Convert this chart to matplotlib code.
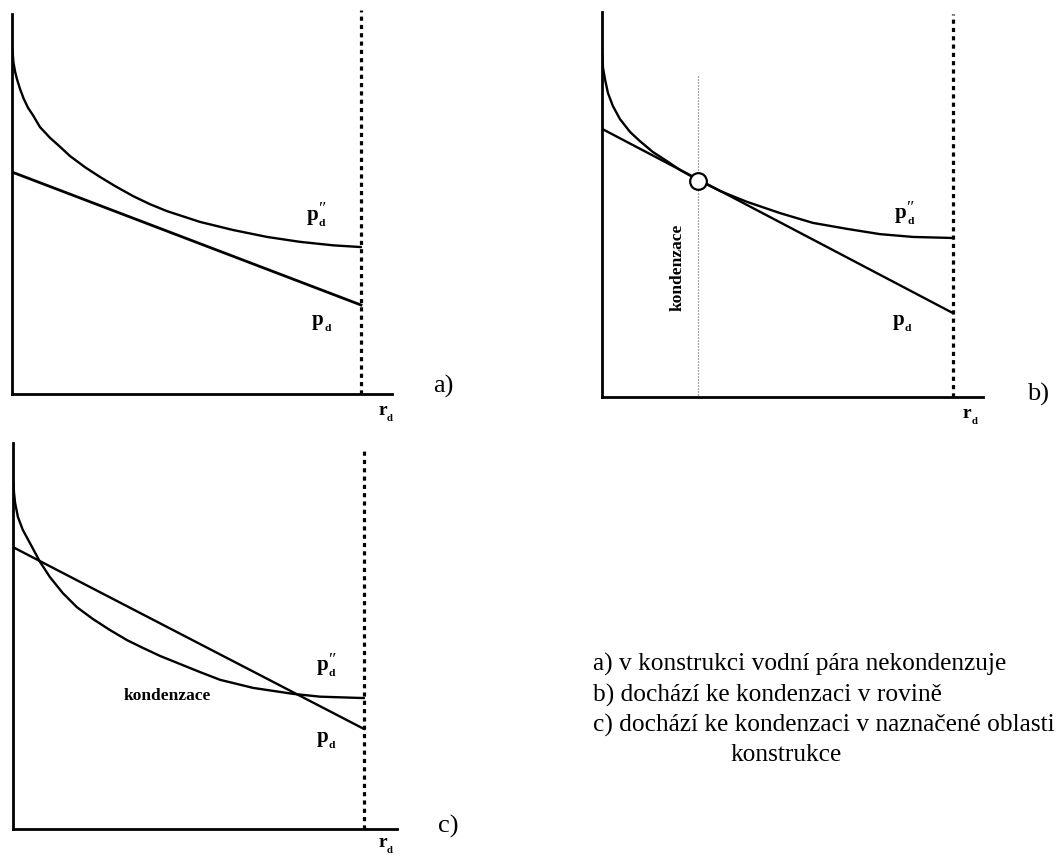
import matplotlib
matplotlib.use("Agg")
import matplotlib.pyplot as plt
from matplotlib.transforms import offset_copy

plt.rcParams['font.family'] = ['Liberation Serif', 'DejaVu Serif']

# ---------------- data (relative units, dashed boundary at r = 10) ----------------
# panel a)  saturated pressure p''_d and partial pressure p_d
a_sat_x = [0.01, 0.04, 0.09, 0.14, 0.23, 0.34, 0.46, 0.60, 0.80, 1.09, 1.38, 1.66, 2.09, 2.52,
           2.95, 3.47, 3.95, 4.44, 4.96, 5.39, 6.33, 7.31, 8.25, 9.20, 10.0]
a_sat_y = [9.91, 9.51, 9.23, 9.03, 8.74, 8.45, 8.20, 7.99, 7.65, 7.34, 7.08, 6.82, 6.50, 6.22,
           5.96, 5.67, 5.44, 5.24, 5.07, 4.93, 4.70, 4.50, 4.36, 4.26, 4.21]
a_p_x = [0.0, 10.0]
a_p_y = [6.36, 2.55]

# panel b)
b_sat_x = [0.01, 0.03, 0.09, 0.17, 0.31, 0.51, 0.80, 1.08, 1.45, 1.85, 2.22, 2.74, 3.36, 4.13,
           5.07, 6.01, 6.98, 7.92, 8.86, 10.0]
b_sat_y = [9.74, 9.37, 9.03, 8.66, 8.29, 7.92, 7.55, 7.29, 6.98, 6.72, 6.47, 6.18, 5.87, 5.56,
           5.24, 4.96, 4.79, 4.64, 4.56, 4.53]
b_p_x = [0.0, 10.0]
b_p_y = [7.64, 2.39]
b_cond_x = 2.74
b_cond_y = 6.15

# panel c)
c_sat_x = [0.01, 0.03, 0.06, 0.14, 0.28, 0.48, 0.77, 1.05, 1.42, 1.82, 2.28, 2.76, 3.25, 3.70,
           4.19, 4.76, 5.33, 5.90, 6.84, 7.98, 8.75, 10.0]
c_sat_y = [9.89, 9.57, 9.29, 8.89, 8.52, 8.15, 7.61, 7.18, 6.72, 6.32, 5.98, 5.67, 5.38, 5.16,
           4.93, 4.70, 4.47, 4.25, 4.02, 3.85, 3.77, 3.73]
c_p_x = [0.0, 10.0]
c_p_y = [8.03, 2.85]

legend_lines = [
    "a) v konstrukci vodní pára nekondenzuje",
    "b) dochází ke kondenzaci v rovině",
    "c) dochází ke kondenzaci v naznačené oblasti",
]
legend_cont = "konstrukce"
panel_tags = ["a)", "b)", "c)"]
cond_label = "kondenzace"

W, H = 1062, 859
fig = plt.figure(figsize=(W / 100, H / 100), dpi=100)


def make_axes(x0, y0, w, h, s):
    ax = fig.add_axes([x0 / W, (H - y0) / H, w / W, h / H])
    ax.set_xlim(0, w / s)
    ax.set_ylim(0, h / s)
    for sp in ['top', 'right']:
        ax.spines[sp].set_visible(False)
    for sp in ['left', 'bottom']:
        ax.spines[sp].set_linewidth(2.0)
        ax.spines[sp].set_color('black')
    ax.set_xticks([])
    ax.set_yticks([])
    ax.patch.set_alpha(0)
    return ax


def sym(ax, x, y, base, prime=False, size=15):
    """base letter (bold) with small bold subscript d, optional double prime."""
    ax.text(x, y, base, fontsize=size, fontweight='bold', ha='left', va='baseline', clip_on=False)
    bw = 8.6 if base == 'p' else 6.8
    tr = offset_copy(ax.transData, fig=fig, x=bw * size / 15, y=-4.5, units='points')
    ax.text(x, y, 'd', fontsize=size * 0.55, fontweight='bold', ha='left', va='baseline',
            transform=tr, clip_on=False)
    if prime:
        tr2 = offset_copy(ax.transData, fig=fig, x=bw * size / 15 - 0.5, y=3.2, units='points')
        ax.text(x, y, '\u2033', fontsize=size * 0.85, ha='left', va='baseline',
                transform=tr2, clip_on=False)


LW = 1.7
DASH = dict(color='black', lw=2.3, linestyle=(0, (1.3, 1.3)), clip_on=False)

# ---- panel a
axa = make_axes(12, 394, 380, 380, 34.9)
axa.plot(a_sat_x, a_sat_y, color='black', lw=LW, solid_capstyle='round')
axa.plot(a_p_x, a_p_y, color='black', lw=LW + 0.3)
axa.plot([10, 10], [0, 11.0], **DASH)
sym(axa, 8.45, 4.99, 'p', prime=True)
sym(axa, 8.60, 1.98, 'p')
axa.text(12.06, 0.03, panel_tags[0], fontsize=19, ha='left', va='baseline', clip_on=False)
sym(axa, 10.49, -0.6, 'r', size=14)

# ---- panel b
axb = make_axes(602, 397, 381, 385, 35.1)
axb.plot(b_sat_x, b_sat_y, color='black', lw=LW, solid_capstyle='round')
axb.plot(b_p_x, b_p_y, color='black', lw=LW)
axb.plot([10, 10], [0, 10.91], **DASH)
axb.plot([b_cond_x, b_cond_x], [0.05, 9.17], color='#555555', lw=0.9, linestyle=(0, (0.8, 1.6)))
axb.plot([b_cond_x], [b_cond_y], marker='o', ms=12, mfc='white', mec='black', mew=1.6, zorder=5)
axb.text(2.14, 3.70, cond_label, fontsize=12.5, fontweight='bold', rotation=90,
         ha='center', va='center')
sym(axb, 8.35, 5.10, 'p', prime=True)
sym(axb, 8.29, 2.05, 'p')
axb.text(12.1, -0.09, panel_tags[1], fontsize=19, ha='left', va='baseline', clip_on=False)
sym(axb, 10.28, -0.6, 'r', size=14)

# ---- panel c
axc = make_axes(13, 829, 384, 386, 35.1)
axc.plot(c_sat_x, c_sat_y, color='black', lw=LW, solid_capstyle='round')
axc.plot(c_p_x, c_p_y, color='black', lw=LW)
axc.plot([10, 10], [0, 10.85], **DASH)
axc.text(4.39, 3.79, cond_label, fontsize=12.5, fontweight='bold', ha='center', va='center')
sym(axc, 8.66, 4.53, 'p', prime=True)
sym(axc, 8.66, 2.48, 'p')
axc.text(12.1, -0.09, panel_tags[2], fontsize=19, ha='left', va='baseline', clip_on=False)
sym(axc, 10.4, -0.5, 'r', size=14)

# ---- explanation text
baselines = [671, 702, 732]
for txt, yb in zip(legend_lines, baselines):
    fig.text(593 / W, 1 - yb / H, txt, fontsize=18.3, ha='left', va='baseline')
fig.text(730 / W, 1 - 761 / H, legend_cont, fontsize=18.3, ha='left', va='baseline')

fig.savefig("out.png", dpi=100, facecolor='white')
